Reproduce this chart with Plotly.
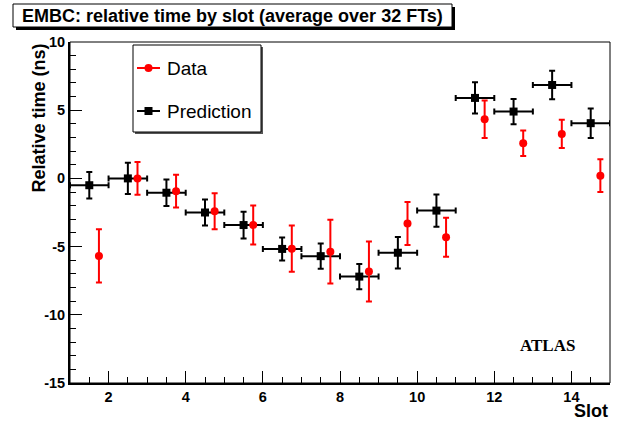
import plotly.graph_objects as go

# ---- data ----
slots = list(range(1, 15))
pred = [-0.5, 0.0, -1.05, -2.5, -3.42, -5.17, -5.7, -7.2, -5.45, -2.36, 5.9, 4.9, 6.85, 4.05]
pred_err = [0.97, 1.15, 0.97, 0.95, 0.98, 0.84, 0.92, 0.92, 1.16, 1.18, 1.14, 0.93, 1.04, 1.08]
data = [-5.68, 0.0, -0.94, -2.4, -3.41, -5.15, -5.37, -6.83, -3.31, -4.31, 4.34, 2.58, 3.26, 0.2]
data_err = [1.95, 1.2, 1.2, 1.32, 1.43, 1.7, 2.33, 2.2, 1.58, 1.43, 1.38, 0.94, 1.04, 1.2]

x_tickvals = [2, 4, 6, 8, 10, 12, 14]
x_ticktext = ["2", "4", "6", "8", "10", "12", "14"]
y_tickvals = [-15, -10, -5, 0, 5, 10]
y_ticktext = ["-15", "-10", "-5", "0", "5", "10"]

title_text = "EMBC: relative time by slot (average over 32 FTs)"
x_title = "Slot"
y_title = "Relative time (ns)"

W, H = 625, 423
L, R, T, B = 70, 15, 42, 40
PW, PH = W - L - R, H - T - B


def px(x):
    return (x - L) / PW


def py(y):
    return (H - B - y) / PH


SANS = "Liberation Sans, Arial, sans-serif"

fig = go.Figure()

fig.add_trace(go.Scatter(
    x=[s + 0.5 for s in slots], y=pred, mode="markers",
    marker=dict(symbol="square", size=8, color="black"),
    error_x=dict(type="constant", value=0.5, thickness=2, width=3, color="black"),
    error_y=dict(type="data", array=pred_err, thickness=2, width=3, color="black"),
    showlegend=False,
))
fig.add_trace(go.Scatter(
    x=[s + 0.75 for s in slots], y=data, mode="markers",
    marker=dict(symbol="circle", size=8, color="#ff0000"),
    error_y=dict(type="data", array=data_err, thickness=2, width=3, color="#ff0000"),
    showlegend=False,
))

shapes = []
# frame
shapes.append(dict(type="rect", xref="paper", yref="paper", x0=0, x1=1, y0=0, y1=1,
                   line=dict(color="black", width=1), layer="above"))
# title box with shadow
shapes.append(dict(type="rect", xref="paper", yref="paper", x0=px(16), x1=px(455), y0=py(7), y1=py(30),
                   fillcolor="black", line=dict(width=0)))
shapes.append(dict(type="rect", xref="paper", yref="paper", x0=px(13), x1=px(452), y0=py(4), y1=py(27),
                   fillcolor="white", line=dict(color="black", width=1)))
# legend box with shadow
shapes.append(dict(type="rect", xref="paper", yref="paper", x0=px(135), x1=px(263), y0=py(47), y1=py(134),
                   fillcolor="#555555", line=dict(width=0)))
shapes.append(dict(type="rect", xref="paper", yref="paper", x0=px(133), x1=px(261), y0=py(45), y1=py(132),
                   fillcolor="white", line=dict(color="black", width=1)))
# legend symbols
for yy, col, kind in [(68, "#ff0000", "circle"), (111, "black", "rect")]:
    shapes.append(dict(type="line", xref="paper", yref="paper", x0=px(137), x1=px(160), y0=py(yy), y1=py(yy),
                       line=dict(color=col, width=2)))
    shapes.append(dict(type=kind, xref="paper", yref="paper", x0=px(144.5), x1=px(152.5),
                       y0=py(yy - 4), y1=py(yy + 4), fillcolor=col, line=dict(color=col, width=0)))

annotations = [
    dict(text=title_text, xref="paper", yref="paper", x=px(232.5), y=py(15.5), showarrow=False,
         xanchor="center", yanchor="middle", font=dict(family=SANS, size=18, color="black", weight="bold")),
    dict(text="Data", xref="paper", yref="paper", x=px(165), y=py(68), showarrow=False,
         xanchor="left", yanchor="middle", font=dict(family=SANS, size=19, color="black")),
    dict(text="Prediction", xref="paper", yref="paper", x=px(165), y=py(111), showarrow=False,
         xanchor="left", yanchor="middle", font=dict(family=SANS, size=19, color="black")),
    dict(text=x_title, xref="paper", yref="paper", x=1, y=py(411), showarrow=False,
         xanchor="right", yanchor="middle", font=dict(family=SANS, size=18, color="black", weight="bold")),
    dict(text=y_title, xref="paper", yref="paper", x=px(38), y=1, showarrow=False, textangle=-90,
         xanchor="center", yanchor="top", font=dict(family=SANS, size=18, color="black", weight="bold")),
    dict(text="ATLAS", xref="paper", yref="paper", x=px(547), y=py(345), showarrow=False,
         xanchor="center", yanchor="middle",
         font=dict(family="Liberation Serif, Courier New, serif", size=17, color="black", weight="bold")),
]

fig.update_layout(
    width=W, height=H, margin=dict(l=L, r=R, t=T, b=B, pad=0),
    paper_bgcolor="white", plot_bgcolor="white",
    shapes=shapes, annotations=annotations,
    xaxis=dict(range=[1, 15], tickmode="array", tickvals=x_tickvals, ticktext=x_ticktext,
               ticks="inside", ticklen=12, tickwidth=1, tickcolor="black",
               showline=True, linewidth=2, linecolor="black", showgrid=False, zeroline=False,
               tickfont=dict(family=SANS, size=14.5, color="black", weight="bold"),
               minor=dict(dtick=0.5, tick0=0, ticks="inside", ticklen=6, tickcolor="black", tickwidth=1, showgrid=False),
               ticklabelstandoff=0),
    yaxis=dict(range=[-15, 10], tickmode="array", tickvals=y_tickvals, ticktext=y_ticktext,
               ticks="inside", ticklen=12, tickwidth=1, tickcolor="black",
               showline=True, linewidth=2, linecolor="black", showgrid=False, zeroline=False,
               tickfont=dict(family=SANS, size=14.5, color="black", weight="bold"),
               minor=dict(dtick=1, tick0=0, ticks="inside", ticklen=6, tickcolor="black", tickwidth=1, showgrid=False),
               ticklabelstandoff=0),
)

fig.write_html("out.html", config={"displayModeBar": False},
               post_script="document.body.style.margin='0';document.body.style.overflow='hidden';")
